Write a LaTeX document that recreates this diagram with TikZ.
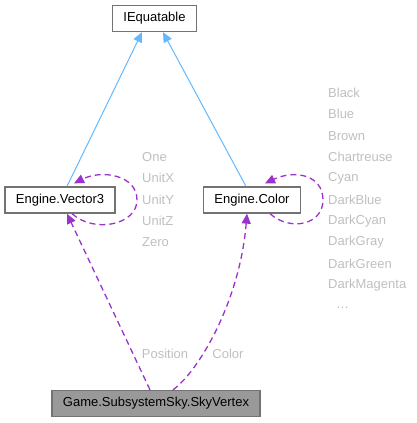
\documentclass[tikz,border=0pt]{standalone}
\usepackage{fontspec}
\setmainfont{Liberation Sans}
\usetikzlibrary{positioning,arrows.meta}
\definecolor{edgegray}{HTML}{737373}
\definecolor{inhblue}{HTML}{63B8FF}
\definecolor{usepurple}{HTML}{9A32CD}
\definecolor{lblgray}{HTML}{BFBFBF}

\begin{document}
\begin{tikzpicture}[x=1pt,y=-1pt,
    font=\fontsize{13}{15}\selectfont,
    cls/.style={draw=edgegray,line width=1.3pt,fill=white,minimum height=26pt,
      inner xsep=11pt,inner ysep=0pt},
    lbl/.style={text=lblgray,anchor=west,inner sep=0pt},
    inh/.style={draw=inhblue,line width=1pt,-{Triangle[length=10pt,width=9pt]}},
    use/.style={draw=usepurple,line width=1.3pt,dash pattern=on 6pt off 4pt,
      -{Triangle[length=10pt,width=9pt]}}]
 \useasboundingbox (0,0) rectangle (416,423);
 \node[cls] (eq) at (154.5,18.5) {IEquatable};
 \node[cls] (v3) at (60,200) {Engine.Vector3};
 \node[cls] (col) at (252,200) {Engine.Color};
 \node[cls,fill=gray!80] (sky) at (156,403.5) {Game.SubsystemSky.SkyVertex};
 % inheritance
 \draw[inh] ([xshift=7pt]v3.north) -- ([xshift=-12.5pt]eq.south);
 \draw[inh] ([xshift=-6pt]col.north) -- ([xshift=8.5pt]eq.south);
 % self references
 \draw[use] ([xshift=12pt]v3.south) .. controls +(22,20) and +(0,25) .. (137,200)
   .. controls +(0,-25) and +(28,-14) .. ([xshift=14pt,yshift=3pt]v3.north);
 \draw[use] ([xshift=18pt]col.south) .. controls +(20,18) and +(0,25) .. (323,200)
   .. controls +(0,-25) and +(30,-14) .. ([xshift=13pt,yshift=3pt]col.north);
 % members
 \draw[use] ([xshift=-6pt]sky.north) -- ([xshift=7pt]v3.south);
 \draw[use] ([xshift=17pt]sky.north) .. controls +(27,-20) and +(-7,86) .. ([xshift=-5pt]col.south);
 \node[lbl,anchor=center] (pos) at (165,354) {Position};
 \node[lbl,anchor=center] (clr) at (228,354) {Color};
 \foreach \T [count=\i] in {One,UnitX,UnitY,UnitZ,Zero}
   \node[lbl] (v3-\i) at (142,{157+21.25*(\i-1)}) {\T};
 \foreach \T [count=\i] in {Black,Blue,Brown,Chartreuse,Cyan,DarkBlue,DarkCyan,DarkGray,DarkGreen,DarkMagenta}
   \node[lbl] (col-\i) at (328,{93+21.3*(\i-1)}) {\T};
 \node[lbl] (col-more) at (336,308) {\dots};
\end{tikzpicture}
\end{document}
